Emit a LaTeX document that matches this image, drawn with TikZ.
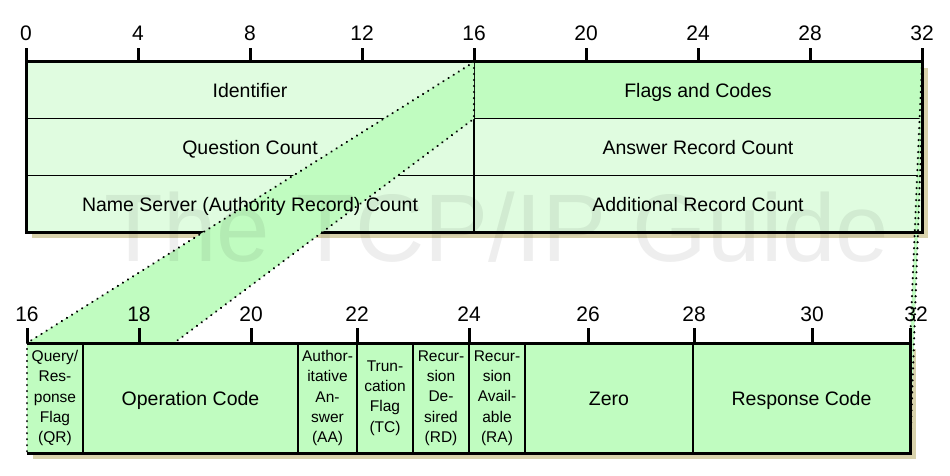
\documentclass[tikz,border=0pt]{standalone}
\usepackage{fontspec}
\setmainfont{Liberation Sans}
\usetikzlibrary{backgrounds}
\definecolor{palegreen}{RGB}{224,252,224}
\definecolor{fieldgreen}{RGB}{192,252,192}
\definecolor{shadowtan}{RGB}{216,210,172}

\begin{document}
\begin{tikzpicture}[x=1pt,y=-1pt,
  every node/.style={inner sep=0pt,outer sep=0pt},
  topfield/.style={fill=#1,minimum width=448pt,minimum height=56.67pt},
  lowfield/.style={fill=fieldgreen,minimum width=#1,minimum height=110pt,anchor=north west},
  lbl/.style={font=\fontsize{19.5}{22}\selectfont,text height=15pt,text depth=0pt},
  flagtext/.style={font=\fontsize{15.5}{20.3}\selectfont,align=center},
  bitnum/.style={font=\fontsize{21}{24}\selectfont},
  bittick/.style={line width=3pt},
  divider/.style={line width=1.3pt},
  outline/.style={line width=3pt,line join=miter},
  zoomline/.style={line width=2.4pt,line cap=round,dash pattern=on 0.01pt off 6pt},
  watermark/.style={font=\fontsize{96}{96}\selectfont,text=black,opacity=0.065,anchor=base}]
\useasboundingbox (0,0) rectangle (950,476);

% upper header box
\node[topfield=palegreen] (ident) at (250,90.33) {};
\node[topfield=fieldgreen] (flags) at (698,90.33) {};
\node[topfield=palegreen] (qcount) at (250,147) {};
\node[topfield=palegreen] (ancount) at (698,147) {};
\node[topfield=palegreen] (nscount) at (250,203.67) {};
\node[topfield=palegreen] (arcount) at (698,203.67) {};
\draw[divider] (ident.south west) -- (flags.south east)
  (qcount.south west) -- (ancount.south east)
  (ident.north east) -- (nscount.south east);

% corners of the expanded flags box
\coordinate (lowNW) at (27,343);
\coordinate (lowSW) at (27,453);
\coordinate (lowNE) at (910,343);
\coordinate (lowSE) at (910,453);

\fill[fieldgreen] (flags.north east) -- (flags.south east) -- (lowSE) -- (lowNE) -- cycle;
\draw[outline] (ident.north west) rectangle (arcount.south east);
\fill[fieldgreen] (ident.north east) -- (ident.south east) -- (lowSW) -- (lowNW) -- cycle;
\draw[zoomline] (ident.north east) -- (ident.south east) -- (lowSW)
  (ident.north east) -- (lowNW);
\draw[zoomline] (flags.north east) -- (flags.south east) -- (lowSE)
  (flags.north east) -- (lowNE);

\node[lbl] (identlbl) at (ident) {Identifier};
\node[lbl] (flagslbl) at (flags) {Flags and Codes};
\node[lbl] (qcountlbl) at (qcount) {Question Count};
\node[lbl] (ancountlbl) at (ancount) {Answer Record Count};
\node[lbl] (nscountlbl) at (nscount) {Name Server (Authority Record) Count};
\node[lbl] (arcountlbl) at (arcount) {Additional Record Count};

% lower flags box
\node[lowfield=56pt,flagtext] (qr) at (lowNW) {Query/\\Res-\\ponse\\Flag\\(QR)};
\node[lowfield=215pt,lbl] (opcode) at (qr.north east) {Operation Code};
\node[lowfield=59pt,flagtext] (aa) at (opcode.north east) {Author-\\itative\\An-\\swer\\(AA)};
\node[lowfield=56pt,flagtext] (tc) at (aa.north east) {Trun-\\cation\\Flag\\(TC)};
\node[lowfield=56pt,flagtext] (rd) at (tc.north east) {Recur-\\sion\\De-\\sired\\(RD)};
\node[lowfield=56pt,flagtext] (ra) at (rd.north east) {Recur-\\sion\\Avail-\\able\\(RA)};
\node[lowfield=168pt,lbl] (zero) at (ra.north east) {Zero};
\node[lowfield=217pt,lbl] (rcode) at (zero.north east) {Response Code};
\foreach \f in {qr,opcode,aa,tc,rd,ra,zero}
  \draw[divider] (\f.north east) -- (\f.south east);
\draw[outline] (qr.north west) -- (rcode.north east) -- (rcode.south east) -- (qr.south west);
\draw[zoomline] (qr.north west) -- (qr.south west);

% bit rulers
\foreach \b in {0,4,...,32} {
  \draw[bittick] (26+28*\b,62) -- (26+28*\b,48);
  \node[bitnum] (topbit\b) at (26+28*\b,33) {\b};
}
\foreach \b/\x/\lx in {16/27/27,18/139/139,20/251/251,22/357/357,24/469/469,26/588/588,28/694/694,30/812/812,32/910/916} {
  \draw[bittick] (\x,343) -- (\x,328);
  \node[bitnum] (lowbit\b) at (\lx,314) {\b};
}

\node[watermark] (guide) at (497,261) {The TCP/IP Guide};

\begin{scope}[on background layer]
\fill[shadowtan] ([shift={(6,6)}]ident.north west) rectangle ([shift={(6,6)}]arcount.south east);
\fill[shadowtan] ([shift={(6,6)}]qr.north west) rectangle ([shift={(6,6)}]rcode.south east);
\end{scope}
\end{tikzpicture}
\end{document}
